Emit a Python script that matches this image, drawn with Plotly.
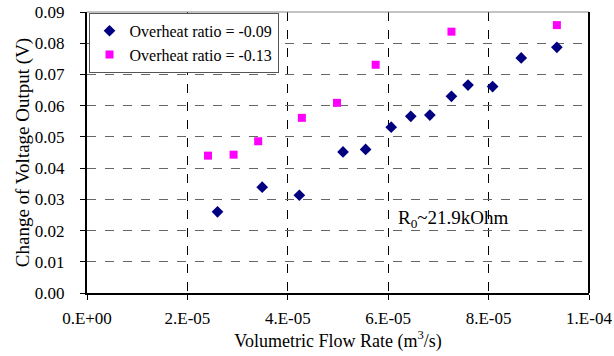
import plotly.graph_objects as go

# Series: Overheat ratio = -0.09
x1 = [2.60e-5, 3.49e-5, 4.23e-5, 5.10e-5, 5.55e-5, 6.06e-5, 6.45e-5, 6.83e-5,
      7.26e-5, 7.59e-5, 8.08e-5, 8.65e-5, 9.36e-5]
y1 = [0.0260, 0.0339, 0.0313, 0.0452, 0.0460, 0.0531, 0.0566, 0.0570,
      0.0630, 0.0666, 0.0661, 0.0753, 0.0787]
# Series: Overheat ratio = -0.13
x2 = [2.41e-5, 2.92e-5, 3.41e-5, 4.28e-5, 4.98e-5, 5.75e-5, 7.26e-5, 9.36e-5]
y2 = [0.0440, 0.0443, 0.0486, 0.0561, 0.0609, 0.0731, 0.0837, 0.0858]

xtick_vals = [0, 2e-5, 4e-5, 6e-5, 8e-5, 1e-4]
xtick_text = ["0.E+00", "2.E-05", "4.E-05", "6.E-05", "8.E-05", "1.E-04"]
ytick_vals = [0.00, 0.01, 0.02, 0.03, 0.04, 0.05, 0.06, 0.07, 0.08, 0.09]

FONT = "Liberation Serif"

fig = go.Figure()
fig.add_trace(go.Scatter(x=x1, y=y1, mode="markers", name="Overheat ratio = -0.09",
                         marker=dict(symbol="diamond", size=9, color="#000080")))
fig.add_trace(go.Scatter(x=x2, y=y2, mode="markers", name="Overheat ratio = -0.13",
                         marker=dict(symbol="square", size=8, color="#FF00FF")))

fig.update_layout(
    width=614, height=356,
    margin=dict(l=87, r=25, t=12, b=63),
    paper_bgcolor="white", plot_bgcolor="white",
    font=dict(family=FONT, size=16, color="black"),
    showlegend=True,
    legend=dict(x=0.003, y=0.997, xanchor="left", yanchor="top",
                bgcolor="white", bordercolor="#555555", borderwidth=1,
                font=dict(family=FONT, size=16, color="black"),
                itemwidth=30, tracegroupgap=0),
    xaxis=dict(range=[0, 1e-4], tickvals=xtick_vals, ticktext=xtick_text,
               automargin=False, ticklabelstandoff=4,
               showline=True, linecolor="black", linewidth=2,
               ticks="outside", ticklen=5, tickcolor="black", tickwidth=1,
               showgrid=True, gridcolor="black", griddash="dash", gridwidth=1,
               zeroline=False, tickfont=dict(family=FONT, size=17),
               title=dict(text="Volumetric Flow Rate (m<sup>3</sup>/s)", standoff=6,
                          font=dict(family=FONT, size=18))),
    yaxis=dict(range=[0, 0.09], tickvals=ytick_vals, tickformat=".2f",
               automargin=False, ticklabelstandoff=12,
               showline=True, linecolor="black", linewidth=2,
               ticks="outside", ticklen=5, tickcolor="black", tickwidth=1,
               showgrid=True, gridcolor="#666666", griddash="dash", gridwidth=1,
               zeroline=False, tickfont=dict(family=FONT, size=17),
               title=dict(text="Change of Voltage Output (V)", standoff=0,
                          font=dict(family=FONT, size=19))),
    annotations=[dict(x=0.731, y=0.264, xref="paper", yref="paper",
                      text="R<sub>0</sub>~21.9kOhm", showarrow=False,
                      xanchor="center", yanchor="middle",
                      font=dict(family=FONT, size=19, color="black"))],
    shapes=[
        dict(type="line", xref="paper", yref="paper", x0=0, x1=1, y0=1, y1=1,
             line=dict(color="#888888", width=1)),
        dict(type="line", xref="paper", yref="paper", x0=1, x1=1, y0=0, y1=1,
             line=dict(color="black", width=2)),
    ],
)

fig.write_html("out.html")
